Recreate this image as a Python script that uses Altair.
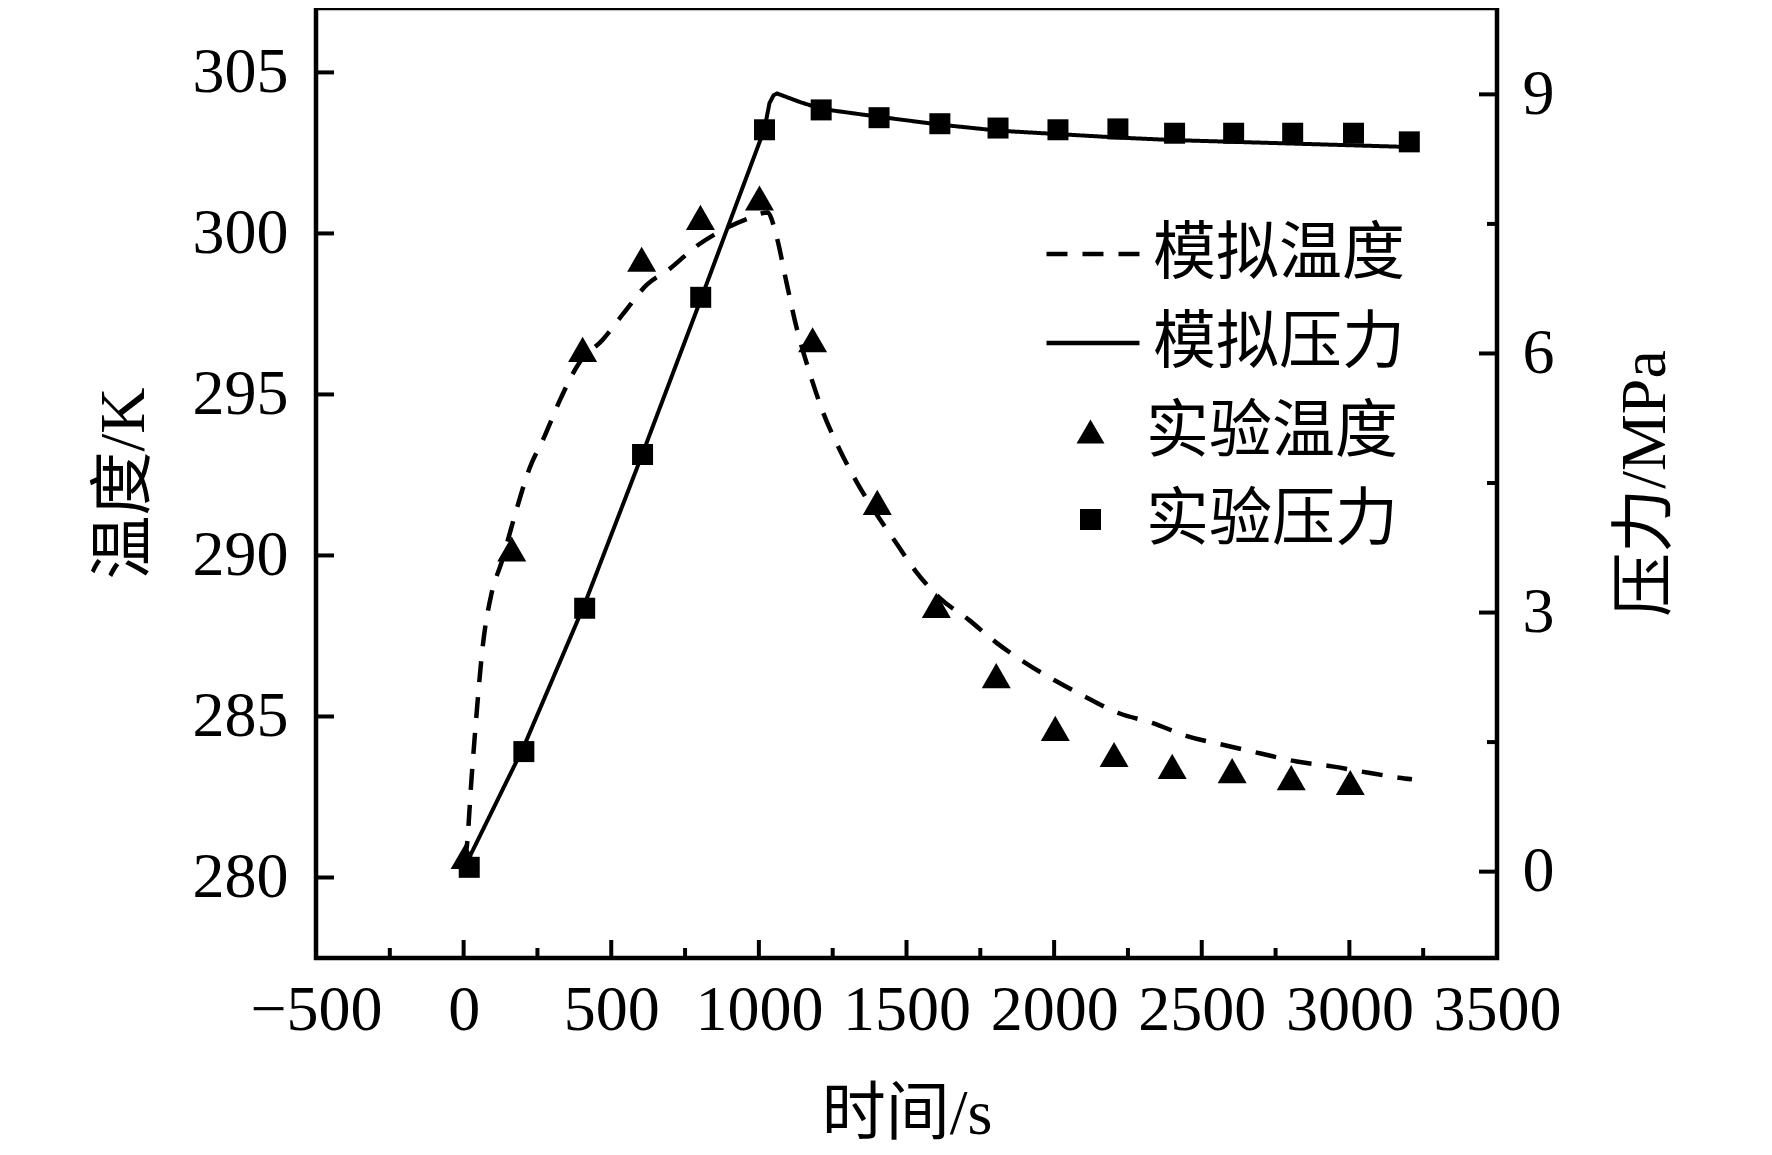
import altair as alt
import pandas as pd

# ---------------- data ----------------
SIM_T_TIME = [0, 10, 27, 44, 65, 94, 129, 172, 223, 274, 325, 393, 471, 540, 620, 698, 788, 876, 960, 1030,
              1060, 1093, 1127, 1171, 1215, 1273, 1330, 1397, 1464, 1532, 1610, 1711, 1803, 1905, 2006, 2108,
              2220, 2332, 2447, 2582, 2700, 2822, 2941, 3060, 3168, 3212]
SIM_T_VAL = [280.5, 280.9, 283.1, 285.1, 287.2, 288.8, 289.8, 291.2, 292.7, 293.7, 294.8, 296.0, 296.7, 297.5,
             298.4, 298.9, 299.6, 300.1, 300.45, 300.65, 299.9, 298.5, 297.1, 295.7, 294.5, 293.3, 292.3, 291.3,
             290.4, 289.5, 288.7, 288.0, 287.3, 286.65, 286.1, 285.6, 285.1, 284.8, 284.4, 284.1, 283.85, 283.6,
             283.45, 283.26, 283.1, 283.05]

SIM_P_TIME = [10, 204, 410, 607, 806, 1019, 1036, 1050, 1062, 1085, 1140, 1214, 1407, 1613, 1810, 2013, 2216,
              2408, 2610, 2810, 3010, 3210]
SIM_P_VAL = [0.1, 1.45, 3.1, 4.85, 6.65, 8.6, 8.9, 8.99, 9.01, 8.98, 8.91, 8.83, 8.74, 8.65, 8.58, 8.54, 8.5,
             8.47, 8.45, 8.43, 8.41, 8.39]

EXP_T_TIME = [5, 163, 403, 603, 802, 1002, 1182, 1401, 1601, 1804, 2004, 2203, 2400, 2603, 2803, 3003]
EXP_T_VAL = [280.65, 290.2, 296.4, 299.2, 300.5, 301.1, 296.7, 291.65, 288.45, 286.27, 284.63, 283.82, 283.45,
             283.32, 283.1, 282.95]

EXP_P_TIME = [19, 204, 410, 606, 803, 1019, 1211, 1407, 1613, 1810, 2013, 2216, 2408, 2608, 2808, 3014, 3203]
EXP_P_VAL = [0.05, 1.39, 3.05, 4.83, 6.65, 8.59, 8.82, 8.73, 8.66, 8.61, 8.59, 8.6, 8.55, 8.55, 8.55, 8.55, 8.45]

X_TICKS = [-500, 0, 500, 1000, 1500, 2000, 2500, 3000, 3500]
X_MINOR = [-250, 250, 750, 1250, 1750, 2250, 2750, 3250]
T_TICKS = [280, 285, 290, 295, 300, 305]
P_TICKS = [0, 3, 6, 9]
P_MINOR = [1.5, 4.5, 7.5]

LINE_LABELS = ["模拟温度", "模拟压力"]
POINT_LABELS = ["实验温度", "实验压力"]

# ---------------- styling ----------------
SERIF = "Liberation Serif"
CJK = "Noto Sans CJK SC"
MIXED = "Liberation Serif, Noto Sans CJK SC"
W, H = 1181, 950
MAJOR, MINOR, TICKW = 18, 10, 4
LEG_FS = 63

SQUARE_PATH = "M-0.75,-0.75H0.75V0.75H-0.75Z"

dash_scale = alt.Scale(domain=LINE_LABELS, range=[[21, 15], [1, 0]])
shape_scale = alt.Scale(domain=POINT_LABELS, range=["triangle-up", SQUARE_PATH])

line_legend = alt.Legend(
    title=None, orient="none", legendX=728, legendY=197,
    labelFont=CJK, labelFontSize=LEG_FS, labelColor="black", labelOffset=11, labelLimit=0,
    symbolSize=8649, symbolStrokeColor="black", symbolStrokeWidth=4.5,
    rowPadding=8, padding=0,
)
point_legend = alt.Legend(
    title=None, orient="none", legendX=743, legendY=392,
    labelFont=CJK, labelFontSize=LEG_FS, labelColor="black", labelOffset=24, labelLimit=0,
    symbolSize=784, symbolFillColor="black", symbolStrokeWidth=0,
    rowPadding=24, padding=0,
)

x_scale = alt.Scale(domain=[-500, 3500], nice=False, zero=False)
t_scale = alt.Scale(domain=[277.5, 307], nice=False, zero=False)
p_scale = alt.Scale(domain=[-1, 10], nice=False, zero=False)

common_axis = dict(ticks=False, domain=False, grid=False,
                   labelFont=SERIF, labelFontSize=64,
                   titleFont=MIXED, titleFontSize=64)
x_axis = alt.Axis(values=X_TICKS, format="d", title="时间/s", orient="bottom", labelPadding=20,
                  labelFlush=False, titlePadding=40, **common_axis)
t_axis = alt.Axis(values=T_TICKS, title="温度/K", orient="left", labelPadding=28,
                  titlePadding=36, **common_axis)
p_axis = alt.Axis(values=P_TICKS, title="压力/MPa", orient="right", labelPadding=25,
                  titlePadding=59, titleAngle=270, titleBaseline="top", **common_axis)

sim_t = pd.DataFrame({"t": SIM_T_TIME, "v": SIM_T_VAL, "series": LINE_LABELS[0]})
sim_p = pd.DataFrame({"t": SIM_P_TIME, "v": SIM_P_VAL, "series": LINE_LABELS[1]})
exp_t = pd.DataFrame({"t": EXP_T_TIME, "v": EXP_T_VAL, "series": POINT_LABELS[0]})
exp_p = pd.DataFrame({"t": EXP_P_TIME, "v": EXP_P_VAL, "series": POINT_LABELS[1]})
x_major_df = pd.DataFrame({"t": X_TICKS})
x_minor_df = pd.DataFrame({"t": X_MINOR})
t_major_df = pd.DataFrame({"v": T_TICKS})
p_major_df = pd.DataFrame({"v": P_TICKS})
p_minor_df = pd.DataFrame({"v": P_MINOR})

# ---- temperature (left axis) ----
temp_line = alt.Chart(sim_t).mark_line(color="black", strokeWidth=4.5, interpolate="monotone").encode(
    x=alt.X("t:Q", scale=x_scale, axis=x_axis),
    y=alt.Y("v:Q", scale=t_scale, axis=t_axis),
    strokeDash=alt.StrokeDash("series:N", scale=dash_scale, legend=line_legend),
)
temp_pts = alt.Chart(exp_t).mark_point(filled=True, color="black", size=841, opacity=1).encode(
    x=alt.X("t:Q", scale=x_scale, axis=x_axis),
    y=alt.Y("v:Q", scale=t_scale, axis=t_axis),
    shape=alt.Shape("series:N", scale=shape_scale, legend=point_legend),
)
x_major_ticks = alt.Chart(x_major_df).mark_rule(color="black", strokeWidth=TICKW).encode(
    x=alt.X("t:Q", scale=x_scale, axis=x_axis), y=alt.value(H), y2=alt.value(H - MAJOR))
x_minor_ticks = alt.Chart(x_minor_df).mark_rule(color="black", strokeWidth=TICKW).encode(
    x=alt.X("t:Q", scale=x_scale, axis=x_axis), y=alt.value(H), y2=alt.value(H - MINOR))
t_major_ticks = alt.Chart(t_major_df).mark_rule(color="black", strokeWidth=TICKW).encode(
    y=alt.Y("v:Q", scale=t_scale, axis=t_axis), x=alt.value(0), x2=alt.value(MAJOR))
temp_layer = alt.layer(temp_line, temp_pts, x_major_ticks, x_minor_ticks, t_major_ticks)

# ---- pressure (right axis) ----
pres_line = alt.Chart(sim_p).mark_line(color="black", strokeWidth=4).encode(
    x=alt.X("t:Q", scale=x_scale, axis=x_axis),
    y=alt.Y("v:Q", scale=p_scale, axis=p_axis),
    strokeDash=alt.StrokeDash("series:N", scale=dash_scale, legend=line_legend),
)
pres_pts = alt.Chart(exp_p).mark_point(filled=True, color="black", size=784, opacity=1).encode(
    x=alt.X("t:Q", scale=x_scale, axis=x_axis),
    y=alt.Y("v:Q", scale=p_scale, axis=p_axis),
    shape=alt.Shape("series:N", scale=shape_scale, legend=point_legend),
)
p_major_ticks = alt.Chart(p_major_df).mark_rule(color="black", strokeWidth=TICKW).encode(
    y=alt.Y("v:Q", scale=p_scale, axis=p_axis), x=alt.value(W - MAJOR), x2=alt.value(W))
p_minor_ticks = alt.Chart(p_minor_df).mark_rule(color="black", strokeWidth=TICKW).encode(
    y=alt.Y("v:Q", scale=p_scale, axis=p_axis), x=alt.value(W - MINOR), x2=alt.value(W))
pres_layer = alt.layer(pres_line, pres_pts, p_major_ticks, p_minor_ticks)

chart = alt.layer(temp_layer, pres_layer).resolve_scale(y="independent").properties(
    width=W, height=H,
    padding={"left": 84, "top": 0, "right": 5, "bottom": 5},
    background="white",
).configure_view(stroke="black", strokeWidth=4.5).configure_axis(
    labelColor="black", titleColor="black", titleFontWeight="normal"
)

chart.save("out.html", embed_options={"renderer": "svg", "actions": False})
